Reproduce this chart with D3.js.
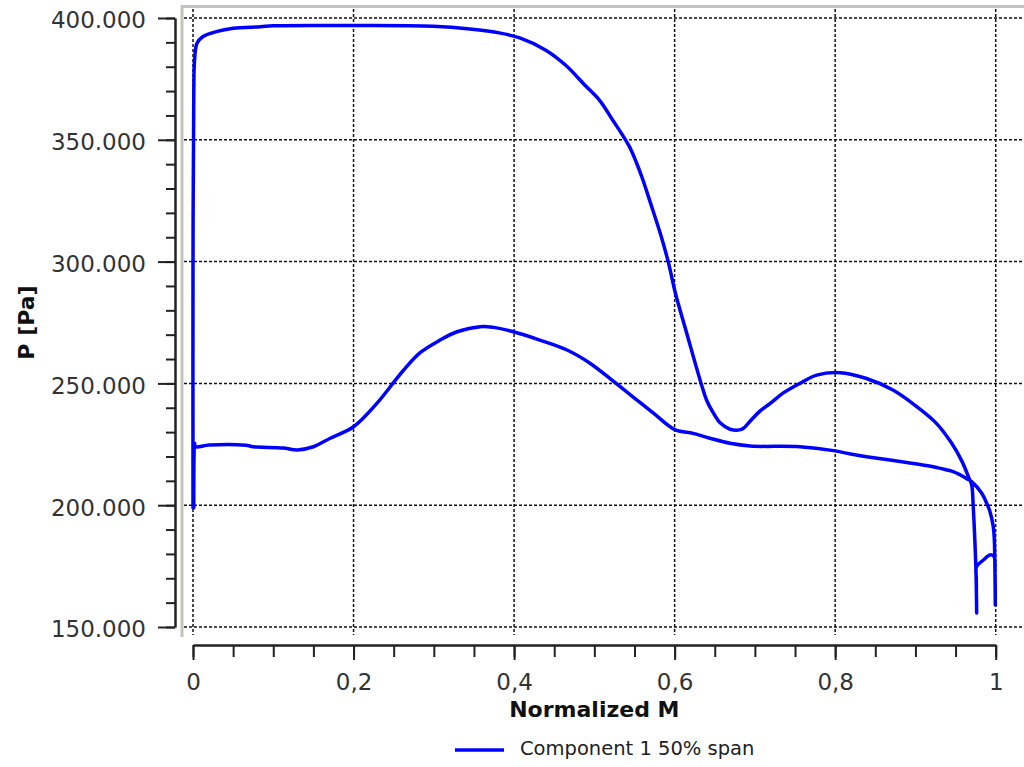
<!DOCTYPE html>
<html>
<head>
<meta charset="utf-8">
<script src="https://cdn.jsdelivr.net/npm/d3@7"></script>
<style>
  html, body { margin: 0; padding: 0; background: #fff; }
  svg { display: block; font-family: "DejaVu Sans", sans-serif; }
</style>
</head>
<body>
<svg id="chart" width="1024" height="767"></svg>
<script>
// ---- data ----
const seriesName = "Component 1 50% span";
const xTitle = "Normalized M";
const yTitle = "P [Pa]";

const xTicks = [0, 0.2, 0.4, 0.6, 0.8, 1];
const xTickLabels = ["0", "0,2", "0,4", "0,6", "0,8", "1"];
const yTicks = [150, 200, 250, 300, 350, 400];
const yTickLabels = ["150.000", "200.000", "250.000", "300.000", "350.000", "400.000"];

// side 1: leading edge -> trailing edge (high-pressure branch)
const mSide1 = [0.000, 0.000, 0.001, 0.002, 0.005, 0.012, 0.029, 0.050, 0.084, 0.100, 0.200, 0.299,
  0.345, 0.383, 0.407, 0.439, 0.464, 0.488, 0.507, 0.524, 0.535, 0.544, 0.552, 0.560, 0.570, 0.582,
  0.592, 0.601, 0.615, 0.633, 0.640, 0.648, 0.657, 0.669, 0.684, 0.694, 0.707, 0.720, 0.735, 0.756,
  0.777, 0.806, 0.839, 0.872, 0.902, 0.925, 0.945, 0.958, 0.966, 0.970, 0.972, 0.974, 0.9755,
  0.9763, 0.9758, 0.9760, 0.9846, 0.9929, 0.9979, 0.9991, 0.9995];
const pSide1 = [199, 300, 370, 383, 389.6, 392.3, 394.4, 395.8, 396.4, 396.8, 396.9, 396.6,
  395.5, 393.8, 391.8, 386.9, 380.7, 372.5, 366, 357.5, 352, 347, 341, 334, 324, 311.7,
  300, 287, 270.7, 250, 243, 238, 233.7, 231.2, 231.2, 234.5, 238.8, 242, 246, 250,
  253.4, 254.4, 252, 247.3, 240.4, 234, 225.5, 218, 211.7, 208.5, 199.4, 185.7, 172,
  155.7, 170, 174.7, 177.5, 179.6, 178.9, 172, 159];

// side 2: trailing edge -> leading edge (low-pressure branch)
const mSide2 = [0.9995, 0.9991, 0.9983, 0.997, 0.9929, 0.9888, 0.9826, 0.970, 0.964, 0.956, 0.947,
  0.931, 0.922, 0.881, 0.839, 0.819, 0.798, 0.756, 0.694, 0.669, 0.644, 0.623, 0.601, 0.574,
  0.548, 0.524, 0.495, 0.466, 0.432, 0.399, 0.374, 0.358, 0.329, 0.308, 0.283, 0.262, 0.250,
  0.229, 0.200, 0.171, 0.150, 0.130, 0.112, 0.075, 0.066, 0.020, 0.003, 0.002, 0.001];
const pSide2 = [159, 172, 185.7, 191.2, 197.3, 200.8, 204.9, 209.7, 210.9, 212.4, 213.8,
  215.1, 215.8, 217.9, 219.9, 221, 222.4, 224, 224.3, 225.4, 227.5, 229.5, 230.9, 237.7,
  244.5, 250.8, 258.2, 263.7, 267.8, 271.2, 273, 273.3, 271.2, 267.8, 262.6, 255.3, 250.4,
  241.8, 232.2, 227.5, 224, 222.7, 223.5, 224.0, 224.6, 224.7, 224, 225.4, 199];

// ---- drawing ----
const svg = d3.select("#chart");
const font = "DejaVu Sans";

const x = d3.scaleLinear().domain([0, 1]).range([193, 995.7]);
const y = d3.scaleLinear().domain([150, 400]).range([627, 18]);

// frame (gray)
svg.append("line").attr("x1", 182).attr("x2", 182).attr("y1", 5).attr("y2", 637)
  .attr("stroke", "#c4c4bc").attr("stroke-width", 3);
svg.append("line").attr("x1", 181).attr("x2", 1024).attr("y1", 6.5).attr("y2", 6.5)
  .attr("stroke", "#c4c4bc").attr("stroke-width", 3);

// grid
const grid = svg.append("g").attr("stroke", "#111").attr("stroke-width", 1.5)
  .attr("stroke-dasharray", "3,2").attr("fill", "none");
grid.selectAll("line.h").data(yTicks).join("line").attr("class", "h")
  .attr("x1", 184).attr("x2", 1024)
  .attr("y1", d => y(d)).attr("y2", d => y(d));
grid.selectAll("line.v").data(xTicks).join("line").attr("class", "v")
  .attr("x1", d => x(d)).attr("x2", d => x(d))
  .attr("y1", 9).attr("y2", 635);

// y axis
const yMinor = d3.range(150, 401, 10);
const gyMinor = svg.append("g").attr("transform", "translate(175,0)")
  .call(d3.axisLeft(y).tickValues(yMinor).tickSize(9).tickSizeOuter(0).tickFormat(""));
const gy = svg.append("g").attr("transform", "translate(175,0)")
  .call(d3.axisLeft(y).tickValues(yTicks).tickSize(17).tickSizeOuter(0).tickPadding(12)
    .tickFormat((d, i) => yTickLabels[i]));
[gyMinor, gy].forEach(g => {
  g.selectAll("path,line").attr("stroke", "#222").attr("stroke-width", 2);
});
gy.selectAll("text").attr("font-family", font).attr("font-size", 23).attr("fill", "#333")
  .attr("dy", "0.43em");

// x axis
const xMinor = d3.range(0, 1.0001, 0.05);
const gxMinor = svg.append("g").attr("transform", "translate(0,645)")
  .call(d3.axisBottom(x).tickValues(xMinor).tickSize(12).tickSizeOuter(0).tickFormat(""));
const gx = svg.append("g").attr("transform", "translate(0,645)")
  .call(d3.axisBottom(x).tickValues(xTicks).tickSize(15).tickSizeOuter(0)
    .tickFormat((d, i) => xTickLabels[i]));
[gxMinor, gx].forEach(g => {
  g.selectAll("path,line").attr("stroke", "#222").attr("stroke-width", 2);
});
gx.selectAll("text").attr("font-family", font).attr("font-size", 23).attr("fill", "#333")
  .attr("y", 45).attr("dy", 0);

// axis titles
svg.append("text").attr("x", (x(0) + x(1)) / 2).attr("y", 717)
  .attr("text-anchor", "middle").attr("font-weight", "bold").attr("font-size", 22)
  .attr("fill", "#111").text(xTitle);
svg.append("text").attr("transform", `translate(33.5,${(y(150) + y(400)) / 2}) rotate(-90)`)
  .attr("text-anchor", "middle").attr("font-weight", "bold").attr("font-size", 22)
  .attr("fill", "#111").text(yTitle);

// series
const pts = mSide1.map((m, i) => [m, pSide1[i]])
  .concat(mSide2.map((m, i) => [m, pSide2[i]]));
const line = d3.line().x(d => x(d[0])).y(d => y(d[1])).curve(d3.curveCatmullRom.alpha(0.5));
svg.append("path").datum(pts).attr("d", line)
  .attr("fill", "none").attr("stroke", "#0000ff").attr("stroke-width", 3.5)
  .attr("stroke-linejoin", "round").attr("stroke-linecap", "round");

// legend
svg.append("line").attr("x1", 455).attr("x2", 504).attr("y1", 750).attr("y2", 750)
  .attr("stroke", "#0000ff").attr("stroke-width", 3.5);
svg.append("text").attr("x", 520).attr("y", 755)
  .attr("font-size", 19.5).attr("fill", "#222").text(seriesName);
</script>
</body>
</html>
